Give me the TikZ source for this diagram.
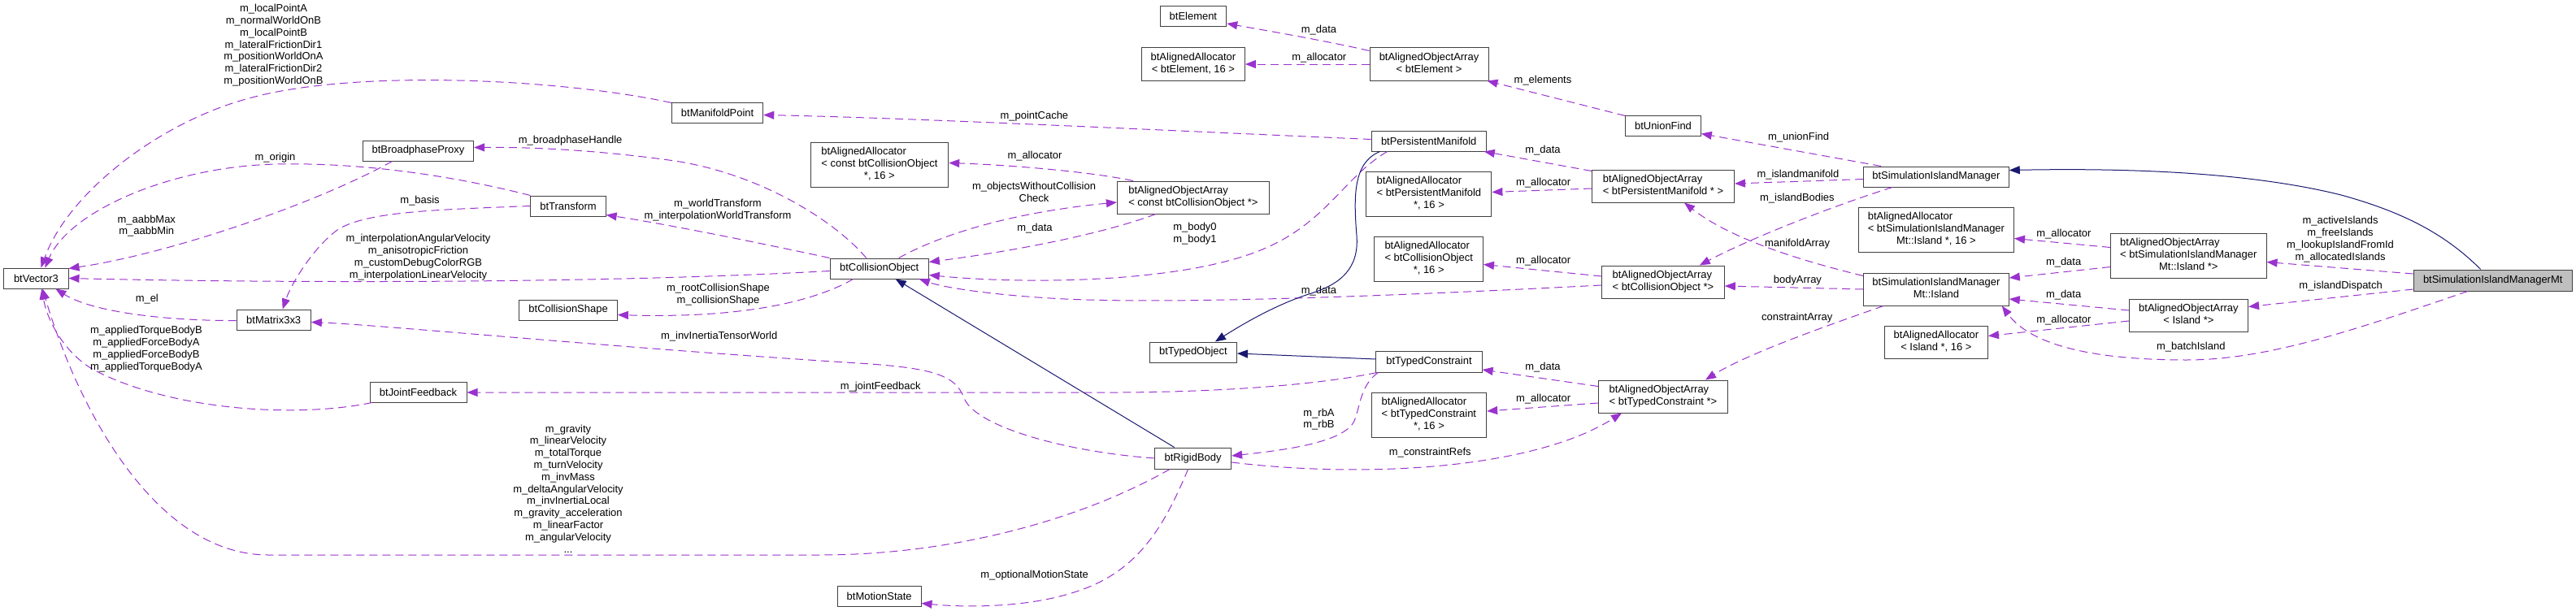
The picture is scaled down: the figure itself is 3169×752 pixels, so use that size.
\documentclass[tikz,border=0pt]{standalone}
\usepackage{fontspec}
\setmainfont{Liberation Sans}
\usetikzlibrary{arrows.meta,calc}
\definecolor{pcol}{HTML}{9A32CD}
\definecolor{ncol}{HTML}{191970}
\definecolor{mtfill}{HTML}{BFBFBF}
\newcommand\labfont{\fontsize{12.96pt}{14.8pt}\selectfont}
\newcommand\mlines[2]{\begin{tabular}{@{}l@{}}#1\\\multicolumn{1}{@{}c@{}}{#2}\end{tabular}}
\tikzset{
  box/.style={draw=black!75, line width=1pt, inner sep=0pt, minimum height=25pt, fill=white, font=\labfont},
  dep/.style={draw=pcol, line width=1pt, dash pattern=on 10pt off 6pt, -{Triangle[length=13pt,width=10pt]}},
  inh/.style={draw=ncol, line width=1pt, -{Triangle[length=13pt,width=10pt]}},
  elab/.style={inner sep=0pt, align=center, font=\labfont}
}
\begin{document}
\begin{tikzpicture}[x=1pt,y=-1pt]
\useasboundingbox (0,0) rectangle (3169,752);
% nodes
\node[box, minimum width=79.2pt] (vec) at (44.4,342.5) {btVector3};
\node[box, minimum width=136.4pt] (bpp) at (514.5,185.5) {btBroadphaseProxy};
\node[box, minimum width=91.3pt] (mat) at (336.7,393.5) {btMatrix3x3};
\node[box, minimum width=119pt] (jfb) at (514.5,482.5) {btJointFeedback};
\node[box, minimum width=112.3pt] (mpt) at (882.6,138.5) {btManifoldPoint};
\node[box, minimum width=92.3pt] (trf) at (699,253.5) {btTransform};
\node[box, minimum width=120.6pt] (csh) at (699.1,381.5) {btCollisionShape};
\node[box, minimum width=121.3pt] (cob) at (1081.7,330.5) {btCollisionObject};
\node[box, minimum width=169.7pt, minimum height=55pt] (alcco) at (1081.9,202.5) {\mlines{btAlignedAllocator\\< const btCollisionObject}{*, 16 >}};
\node[box, minimum width=187pt, minimum height=40pt] (aocco) at (1467.9,243) {\mlines{btAlignedObjectArray}{< const btCollisionObject *>}};
\node[box, minimum width=81.6pt] (ele) at (1467.9,20) {btElement};
\node[box, minimum width=127pt, minimum height=40pt] (alele) at (1467.9,79) {\mlines{btAlignedAllocator}{< btElement, 16 >}};
\node[box, minimum width=146pt, minimum height=40pt] (aoele) at (1758,79) {\mlines{btAlignedObjectArray}{< btElement >}};
\node[box, minimum width=92.6pt] (uf) at (2046,154.5) {btUnionFind};
\node[box, minimum width=141.2pt] (pm) at (1757.7,173.5) {btPersistentManifold};
\node[box, minimum width=154pt, minimum height=55pt] (alpm) at (1757.9,238.5) {\mlines{btAlignedAllocator\\< btPersistentManifold}{*, 16 >}};
\node[box, minimum width=175pt, minimum height=40pt] (aopm) at (2046,229) {\mlines{btAlignedObjectArray}{< btPersistentManifold * >}};
\node[box, minimum width=133.6pt, minimum height=55pt] (alco) at (1757.7,318.5) {\mlines{btAlignedAllocator\\< btCollisionObject}{*, 16 >}};
\node[box, minimum width=150.8pt, minimum height=40pt] (aoco) at (2045.9,347) {\mlines{btAlignedObjectArray}{< btCollisionObject *>}};
\node[box, minimum width=107.1pt] (tob) at (1467.9,433.5) {btTypedObject};
\node[box, minimum width=130.2pt, minimum height=26pt] (tc) at (1758,445) {btTypedConstraint};
\node[box, minimum width=141.5pt, minimum height=55pt] (altc) at (1757.9,510.5) {\mlines{btAlignedAllocator\\< btTypedConstraint}{*, 16 >}};
\node[box, minimum width=159pt, minimum height=40pt] (aotc) at (2046,488) {\mlines{btAlignedObjectArray}{< btTypedConstraint *>}};
\node[box, minimum width=94pt, minimum height=26pt] (rb) at (1467.6,564) {btRigidBody};
\node[box, minimum width=102.6pt] (ms) at (1081.7,733.5) {btMotionState};
\node[box, minimum width=178.7pt] (sim) at (2381.9,217.5) {btSimulationIslandManager};
\node[box, minimum width=191.1pt, minimum height=55pt] (alisl) at (2381.9,282.5) {\mlines{btAlignedAllocator\\< btSimulationIslandManager}{Mt::Island *, 16 >}};
\node[box, minimum width=178.7pt, minimum height=40pt] (isl) at (2381.9,356) {\mlines{btSimulationIslandManager}{Mt::Island}};
\node[box, minimum width=127.1pt, minimum height=40pt] (alisl2) at (2381.9,421) {\mlines{btAlignedAllocator}{< Island *, 16 >}};
\node[box, minimum width=191.4pt, minimum height=55pt] (aoisl) at (2692.3,314.5) {\mlines{btAlignedObjectArray\\< btSimulationIslandManager}{Mt::Island *>}};
\node[box, minimum width=146.3pt, minimum height=40pt] (aoisl2) at (2692.4,388) {\mlines{btAlignedObjectArray}{< Island *>}};
\node[box, minimum width=195.3pt, minimum height=26pt, fill=mtfill] (mt) at (3066.7,345) {btSimulationIslandManagerMt};

% usage edges
\draw[dep] ($(mpt.north west)+(0,1)$) .. controls (690,97) and (440,85) .. (310,120) .. controls (200,148) and (85,235) .. ($(vec.north)+(6,0)$);
\node[elab] (l1) at (336.5,55.8) {m\_localPointA\\m\_normalWorldOnB\\m\_localPointB\\m\_lateralFrictionDir1\\m\_positionWorldOnA\\m\_lateralFrictionDir2\\m\_positionWorldOnB};
\draw[dep] (trf.north west) .. controls (540,212) and (430,200) .. (340,202) .. controls (210,205) and (85,260) .. ($(vec.north)+(11,0)$);
\node[elab] (l2) at (338.5,194) {m\_origin};
\draw[dep] ($(bpp.south)+(-32,0)$) .. controls (390,250) and (210,312) .. ($(vec.north east)+(0,1)$);
\node[elab] (l3) at (180.3,278) {m\_aabbMax\\m\_aabbMin};
\draw[dep] ($(cob.west)+(0,3)$) .. controls (720,350) and (320,348) .. (vec.east);
\node[elab] (l4) at (514.5,316.5) {m\_interpolationAngularVelocity\\m\_anisotropicFriction\\m\_customDebugColorRGB\\m\_interpolationLinearVelocity};
\draw[dep] ($(mat.west)+(0,1)$) .. controls (210,395) and (115,385) .. ($(vec.south)+(24,0)$);
\node[elab] (l5) at (180.8,367.7) {m\_el};
\draw[dep] ($(jfb.south west)+(3,0)$) .. controls (365,515) and (210,505) .. (115,455) .. controls (80,435) and (58,395) .. ($(vec.south)+(7,0)$);
\node[elab] (l6) at (180,429.7) {m\_appliedTorqueBodyB\\m\_appliedForceBodyA\\m\_appliedForceBodyB\\m\_appliedTorqueBodyA};
\draw[dep] ($(rb.south west)+(19,0)$) .. controls (1320,645) and (1160,683) .. (1010,683) -- (330,683) .. controls (190,683) and (95,500) .. ($(vec.south)+(8,0)$);
\node[elab] (l7) at (699,601.3) {m\_gravity\\m\_linearVelocity\\m\_totalTorque\\m\_turnVelocity\\m\_invMass\\m\_deltaAngularVelocity\\m\_invInertiaLocal\\m\_gravity\_acceleration\\m\_linearFactor\\m\_angularVelocity\\...};
\draw[dep] (trf.west) .. controls (540,258) and (450,260) .. (415,283) .. controls (385,305) and (358,350) .. ($(mat.north)+(11,0)$);
\node[elab] (l8) at (516.6,247) {m\_basis};
\draw[dep] (rb.west) .. controls (1310,556) and (1200,525) .. (1186,490) .. controls (1175,460) and (1145,452) .. (1040,446) .. controls (720,425) and (470,400) .. ($(mat.east)+(0,3)$);
\node[elab] (l9) at (884.7,414) {m\_invInertiaTensorWorld};
\draw[dep] ($(tc.south west)+(1.5,0)$) .. controls (1630,472) and (1520,482) .. (1380,483) -- ($(jfb.east)+(0,0.5)$);
\node[elab] (l10) at (1083.2,476) {m\_jointFeedback};
\draw[dep] ($(cob.north)+(-16,0)$) .. controls (1030,275) and (940,215) .. (830,198) .. controls (730,184) and (650,181) .. ($(bpp.east)+(0,-4)$);
\node[elab] (l11) at (701.7,173) {m\_broadphaseHandle};
\draw[dep] (cob.north west) .. controls (930,298) and (820,276) .. ($(trf.east)+(0,11)$);
\node[elab] (l12) at (883,259) {m\_worldTransform\\m\_interpolationWorldTransform};
\draw[dep] ($(cob.south west)+(29,0)$) .. controls (1000,372) and (910,392) .. ($(csh.east)+(0,6)$);
\node[elab] (l13) at (883.5,363) {m\_rootCollisionShape\\m\_collisionShape};
\draw[dep] ($(pm.west)+(0,-2)$) .. controls (1420,160) and (1120,145) .. ($(mpt.east)+(0,3)$);
\node[elab] (l14) at (1272.4,143.3) {m\_pointCache};
\draw[dep] ($(aocco.north west)+(20,0)$) .. controls (1340,211) and (1240,203) .. ($(alcco.east)+(0,-2)$);
\node[elab] (l15) at (1273,192.3) {m\_allocator};
\draw[dep] ($(cob.north)+(24,0)$) .. controls (1155,290) and (1240,262) .. ($(aocco.west)+(0,6)$);
\node[elab] (l16) at (1272,236.2) {m\_objectsWithoutCollision\\Check};
\draw[dep] ($(aocco.south west)+(48,0)$) .. controls (1350,290) and (1240,310) .. ($(cob.east)+(0,-8)$);
\node[elab] (l17) at (1273,280.7) {m\_data};
\draw[dep] ($(pm.south west)+(20,0)$) .. controls (1650,220) and (1630,280) .. (1540,312) .. controls (1440,348) and (1260,350) .. ($(cob.east)+(0,8)$);
\node[elab] (l18) at (1470,288) {m\_body0\\m\_body1};
\draw[dep] ($(aoco.west)+(0,4)$) .. controls (1760,362) and (1460,375) .. (1310,368) .. controls (1230,364) and (1165,355) .. ($(cob.south east)+(-12,0)$);
\node[elab] (l19) at (1622.5,358.3) {m\_data};
\draw[dep] ($(aoele.north west)+(0,4)$) .. controls (1630,50) and (1560,38) .. ($(ele.east)+(0,9)$);
\node[elab] (l20) at (1622.5,36.7) {m\_data};
\draw[dep] (aoele.west) -- (alele.east);
\node[elab] (l21) at (1622.8,70.7) {m\_allocator};
\draw[dep] ($(uf.north west)+(0,1)$) -- ($(aoele.south east)+(-2,0)$);
\node[elab] (l22) at (1898,99) {m\_elements};
\draw[dep] ($(aopm.north west)+(0,2)$) -- ($(pm.south east)+(-3,0)$);
\node[elab] (l23) at (1898,184.7) {m\_data};
\draw[dep] ($(aopm.west)+(0,3)$) -- ($(alpm.east)+(0,-2)$);
\node[elab] (l24) at (1898.7,225) {m\_allocator};
\draw[dep] ($(aoco.west)+(0,-7)$) -- ($(alco.east)+(0,7)$);
\node[elab] (l25) at (1898.7,320.7) {m\_allocator};
\draw[dep] ($(aotc.north west)+(0,8)$) -- ($(tc.east)+(0,10)$);
\node[elab] (l26) at (1898,451.7) {m\_data};
\draw[dep] ($(aotc.west)+(0,8)$) -- ($(altc.east)+(0,-4.5)$);
\node[elab] (l27) at (1898.7,490.7) {m\_allocator};
\draw[dep] ($(tc.south west)+(3,0)$) .. controls (1672,475) and (1673,505) .. (1665,520) .. controls (1650,545) and (1580,554) .. ($(rb.east)+(0,-3)$);
\node[elab] (l28) at (1622.5,516) {m\_rbA\\m\_rbB};
\draw[dep] ($(rb.east)+(0,5)$) .. controls (1690,590) and (1890,575) .. ($(aotc.south west)+(29,0)$);
\node[elab] (l29) at (1759.2,556.7) {m\_constraintRefs};
\draw[dep] ($(rb.south)+(-6,0)$) .. controls (1435,640) and (1405,700) .. (1330,726) .. controls (1270,748) and (1190,748) .. ($(ms.east)+(0,9)$);
\node[elab] (l30) at (1272.6,707.7) {m\_optionalMotionState};
\draw[dep] ($(sim.north west)+(22,0)$) -- ($(uf.east)+(0,10)$);
\node[elab] (l31) at (2212.6,169) {m\_unionFind};
\draw[dep] ($(sim.west)+(0,3)$) -- ($(aopm.east)+(0,-3)$);
\node[elab] (l32) at (2211.9,215) {m\_islandmanifold};
\draw[dep] ($(sim.south west)+(36,0)$) .. controls (2250,255) and (2150,295) .. ($(aoco.north east)+(-31,0)$);
\node[elab] (l33) at (2210.9,244) {m\_islandBodies};
\draw[dep] ($(isl.north west)+(0,4)$) .. controls (2220,322) and (2130,295) .. ($(aopm.south)+(26,0)$);
\node[elab] (l34) at (2211,300) {manifoldArray};
\draw[dep] (isl.west) -- ($(aoco.east)+(0,5)$);
\node[elab] (l35) at (2211.4,344.7) {bodyArray};
\draw[dep] ($(isl.south west)+(25,0)$) .. controls (2250,400) and (2150,435) .. ($(aotc.north east)+(-28,0)$);
\node[elab] (l36) at (2210.7,390.7) {constraintArray};
\draw[dep] ($(aoisl.west)+(0,-10)$) -- ($(alisl.east)+(0,11)$);
\node[elab] (l37) at (2538.9,287.7) {m\_allocator};
\draw[dep] ($(aoisl.west)+(0,14)$) -- ($(isl.east)+(0,-14)$);
\node[elab] (l38) at (2538.6,323.3) {m\_data};
\draw[dep] ($(aoisl2.west)+(0,-6)$) -- ($(isl.east)+(0,12)$);
\node[elab] (l39) at (2538.6,363.3) {m\_data};
\draw[dep] ($(aoisl2.west)+(0,7)$) -- ($(alisl2.east)+(0,-7.5)$);
\node[elab] (l40) at (2538.9,394.3) {m\_allocator};
\draw[dep] ($(mt.west)+(0,-8)$) -- ($(aoisl.east)+(0,8)$);
\node[elab] (l41) at (2879,294.7) {m\_activeIslands\\m\_freeIslands\\m\_lookupIslandFromId\\m\_allocatedIslands};
\draw[dep] ($(mt.west)+(0,11)$) -- ($(aoisl2.north east)+(0,10)$);
\node[elab] (l42) at (2879.6,352.3) {m\_islandDispatch};
\draw[dep] ($(mt.south)+(-31,0)$) .. controls (2900,405) and (2790,443) .. (2690,443) .. controls (2560,443) and (2495,420) .. ($(isl.south east)+(-9,0)$);
\node[elab] (l43) at (2695.3,426.7) {m\_batchIsland};

% inheritance edges
\draw[inh] ($(rb.north)+(-23,0)$) -- ($(cob.south)+(20,0)$);
\draw[inh] ($(pm.south west)+(11,0)$) .. controls (1665,200) and (1665,240) .. (1669,290) .. controls (1672,330) and (1650,350) .. (1610,362) .. controls (1570,375) and (1530,398) .. ($(tob.north)+(27,0)$);
\draw[inh] ($(tc.west)+(0,-3)$) -- ($(tob.east)+(0,1.5)$);
\draw[inh] ($(mt.north)+(-15,0)$) .. controls (3010,290) and (2960,262) .. (2880,240) .. controls (2760,210) and (2600,207) .. ($(sim.east)+(0,-8)$);
\end{tikzpicture}
\end{document}
